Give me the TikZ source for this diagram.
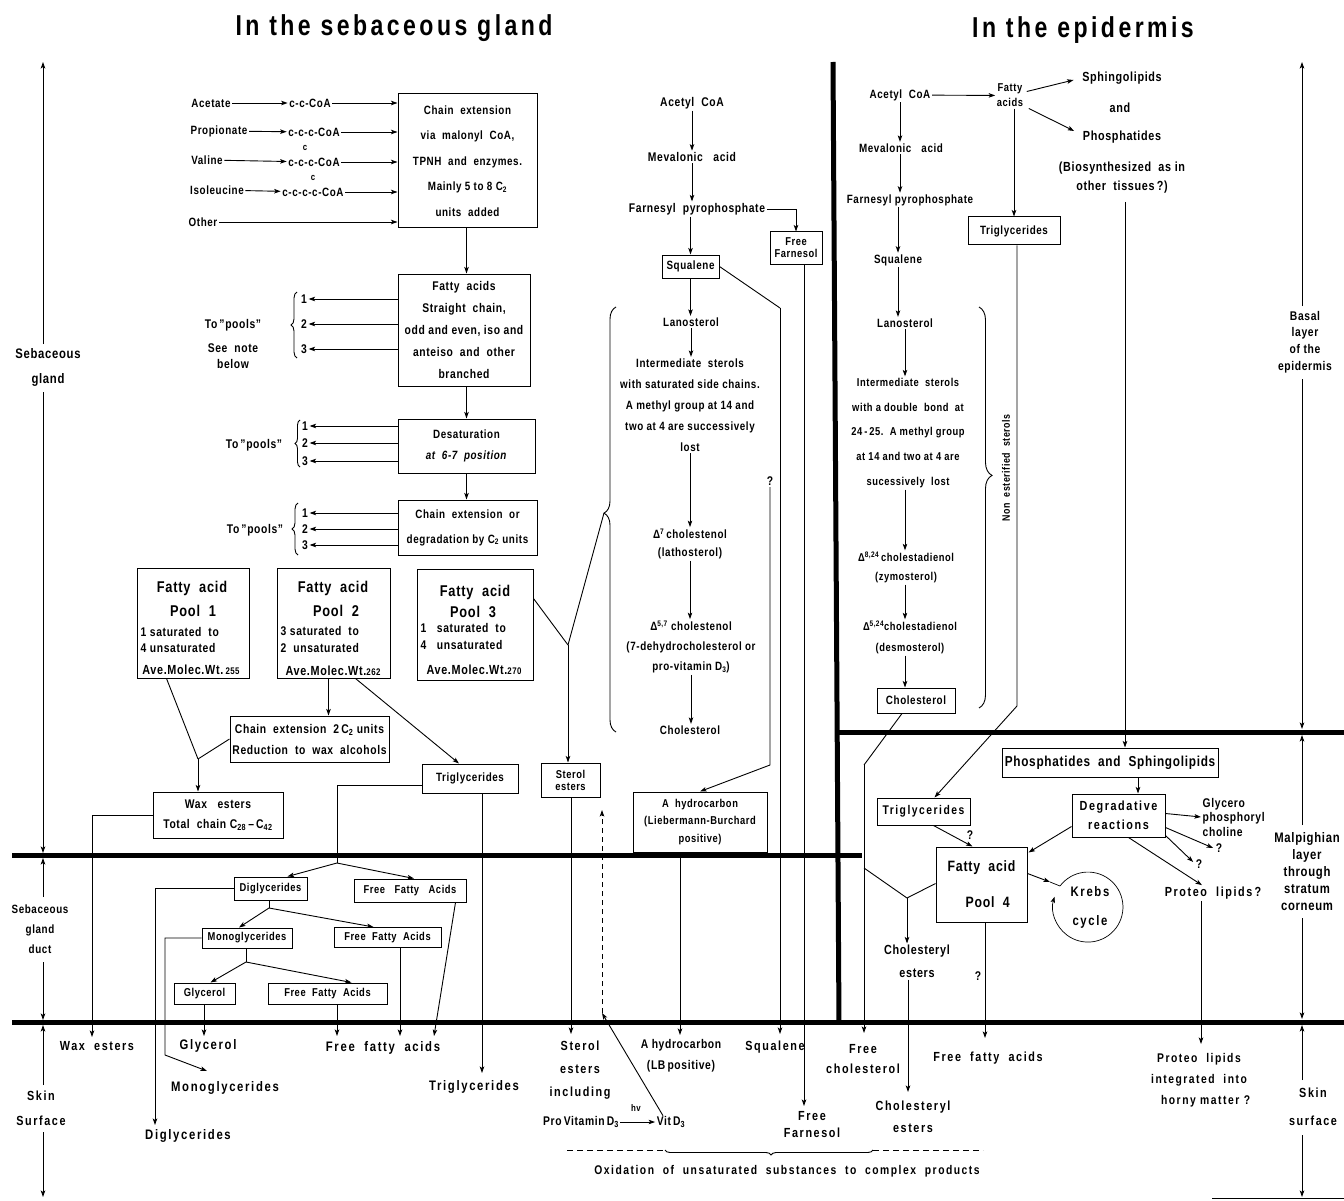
\documentclass[tikz,border=0pt]{standalone}
\usepackage{fontspec}
\setmainfont{Liberation Sans}[LetterSpace=5, FakeStretch=0.82]
\newfontfamily\titlefont{Liberation Sans}[LetterSpace=12, FakeStretch=0.8]
\usetikzlibrary{arrows.meta,decorations.pathreplacing,calc}
\newcommand\fz[2]{\fontsize{\fpeval{#1*1.2}}{#2}\selectfont}
\begin{document}
\begin{tikzpicture}[x=1pt,y=-1pt,
 every node/.style={font=\bfseries\fz{10.5}{13}, inner sep=1.5pt, align=center},
 fsz/.style 2 args={font=\bfseries\fz{#1}{#2}},
 bl/.style 2 args={font=\bfseries\fz{#1}{#2}\addfontfeature{LetterSpace=12}},
 box/.style={draw, line width=1pt, inner sep=0pt},
 ar/.style={line width=0.9pt, -{Stealth[length=6.5pt,width=4.5pt,inset=1.5pt]}},
 ln/.style={line width=0.9pt},
 bound/.style={line width=5pt},
 brc/.style={line width=0.9pt, decorate, decoration={brace, amplitude=#1}},
 ttl/.style={font=\titlefont\bfseries\fz{24}{28}}
]
\fill[white] (0,0) rectangle (1344,1201);
\useasboundingbox (0,0) rectangle (1344,1201);

% ---------- titles
\node[ttl] (t1) at (394,28) {In\ the\ sebaceous\ gland};
\node[ttl] (t2) at (1083,30) {In\ the\ epidermis};

% ---------- boundaries
\draw[bound] (12,855) -- (862,855);
\draw[bound] (12,1022) -- (1344,1022);
\draw[bound] (838,732) -- (1344,732);
\draw[bound] (833,62) -- (839,1024);

% ---------- region labels, left
\node[fsz={11.5}{25}] (sebg) at (48,367) {Sebaceous\\gland};
\coordinate (L1) at (43,62); \coordinate (L2) at (43,853);
\draw[ar] (43,344) -- (L1);
\draw[ar] (43,392) -- (L2);
\node[fsz={10}{20}] (duct) at (40,929) {Sebaceous\\gland\\duct};
\coordinate (L3) at (43,858); \coordinate (L4) at (43,1020);
\draw[ar] (43,897) -- (L3);
\draw[ar] (43,962) -- (L4);
\node[bl={11}{25}] (skinl) at (41,1108) {Skin\\Surface};
\coordinate (L5) at (43,1025); \coordinate (L6) at (43,1197);
\draw[ar] (43,1085) -- (L5);
\draw[ar] (43,1132) -- (L6);

% ---------- region labels, right
\node[fsz={10.5}{16.7}] (basal) at (1305,342) {Basal\\layer\\of the\\epidermis};
\coordinate (R1) at (1302,62); \coordinate (R2) at (1302,729);
\draw[ar] (1302,306) -- (R1);
\draw[ar] (1302,379) -- (R2);
\node[fsz={11.5}{17}] (malp) at (1307,872) {Malpighian\\layer\\through\\stratum\\corneum};
\coordinate (R3) at (1302,735); \coordinate (R4) at (1302,1019);
\draw[ar] (1302,825) -- (R3);
\draw[ar] (1302,918) -- (R4);
\node[bl={11}{28}] (skinr) at (1313,1107) {Skin\\surface};
\coordinate (R5) at (1302,1025); \coordinate (R6) at (1302,1197);
\draw[ar] (1302,1080) -- (R5);
\draw[ar] (1302,1135) -- (R6);
\draw[ln] (1212,1198) -- (1344,1198);

% ---------- precursors
\node[fsz={10}{12}] (acet) at (211,103) {Acetate};
\node[fsz={10}{12}] (c1) at (310,103) {c-c-CoA};
\node[fsz={10}{12}] (prop) at (219,131) {Propionate};
\node[fsz={10}{12}] (c2) at (314,132) {c-c-c-CoA};
\node[fsz={10}{12}] (val) at (207,160) {Valine};
\node[fsz={10}{12}] (c3) at (314,162) {c-c-c-CoA};
\node[fsz={8}{9}, inner sep=0pt] (c3b) at (305,148) {c};
\node[fsz={10}{12}] (iso) at (217,190) {Isoleucine};
\node[fsz={10}{12}] (c4) at (313,192) {c-c-c-c-CoA};
\node[fsz={8}{9}, inner sep=0pt] (c4b) at (313,178) {c};
\node[fsz={10}{12}] (oth) at (203,222) {Other};

\node[box, minimum width=139pt, minimum height=134pt, fsz={10}{25.5}] (chain) at (467.5,161)
 {Chain\ \ extension\\via\ \ malonyl\ \ CoA,\\TPNH\ \ and\ \ enzymes.\\Mainly 5 to 8 C\textsubscript{2}\\units\ \ added};

\draw[ar] (acet) -- (c1);
\draw[ar] (prop) -- (c2);
\draw[ar] (val) -- (c3);
\draw[ar] (iso) -- (c4);
\draw[ar] (c1) -- (c1 -| chain.west);
\draw[ar] (c2) -- (c2 -| chain.west);
\draw[ar] (c3) -- (c3 -| chain.west);
\draw[ar] (c4) -- (c4 -| chain.west);
\draw[ar] (oth) -- (oth -| chain.west);

% ---------- fatty acid processing
\node[box, minimum width=132pt, minimum height=112pt, fsz={10.5}{22.2}] (fa) at (464,330)
 {Fatty\ \ acids\\Straight\ \ chain,\\odd and even, iso and\\anteiso\ \ and\ \ other\\branched};
\node[box, minimum width=137pt, minimum height=54pt, fsz={10}{21}] (des) at (466.5,446)
 {Desaturation\\\textit{at\ \ 6-7\ \ position}};
\node[box, minimum width=139pt, minimum height=55pt, fsz={10}{25}] (cex) at (467.5,527.5)
 {Chain\ \ extension\ \ or\\degradation by C\textsubscript{2} units};
\draw[ar] (chain.south -| des) -- (des |- fa.north);
\draw[ar] (fa.south -| des) -- (des.north);
\draw[ar] (des.south) -- (des |- cex.north);

\node (f1) at (304,299) {1};
\node (f2) at (304,324) {2};
\node (f3) at (304,349) {3};
\draw[ar] (fa.west |- f1) -- (f1.east);
\draw[ar] (fa.west |- f2) -- (f2.east);
\draw[ar] (fa.west |- f3) -- (f3.east);
\draw[brc=6pt] (297,358) -- (297,292);
\node (tp1) at (233,325) {To\,''pools''};
\node (sn1) at (233,348) {See\ \ note};
\node (sn2) at (233,364) {below};

\node (d1) at (305,426) {1};
\node (d2) at (305,443) {2};
\node (d3) at (305,461) {3};
\draw[ar] (des.west |- d1) -- (d1.east);
\draw[ar] (des.west |- d2) -- (d2.east);
\draw[ar] (des.west |- d3) -- (d3.east);
\draw[brc=5pt] (300,467) -- (300,420);
\node (tp2) at (254,445) {To\,''pools''};

\node (e1) at (305,513) {1};
\node (e2) at (305,529) {2};
\node (e3) at (305,545) {3};
\draw[ar] (cex.west |- e1) -- (e1.east);
\draw[ar] (cex.west |- e2) -- (e2.east);
\draw[ar] (cex.west |- e3) -- (e3.east);
\draw[brc=6pt] (298,555) -- (298,503);
\node (tp3) at (255,530) {To\,''pools''};

% ---------- pools
\node[box, minimum width=112pt, minimum height=110pt] (p1) at (193,623) {};
\node[fsz={13}{15}] (p1a) at (192,588) {Fatty\ \ acid};
\node[fsz={13}{15}] (p1b) at (193,611) {Pool\ \ 1};
\node[fsz={10.5}{12}, anchor=west] (p1c) at (139,632) {1 saturated\ \ to};
\node[fsz={10.5}{12}, anchor=west] (p1d) at (139,648) {4 unsaturated};
\node[fsz={11}{13}] (p1e) at (191,670) {Ave.Molec.Wt.\,{\fz{8}{9}255}};

\node[box, minimum width=113pt, minimum height=110pt] (p2) at (333.5,623) {};
\node[fsz={13}{15}] (p2a) at (333,588) {Fatty\ \ acid};
\node[fsz={13}{15}] (p2b) at (336,611) {Pool\ \ 2};
\node[fsz={10.5}{12}, anchor=west] (p2c) at (279,631) {3 saturated\ \ to};
\node[fsz={10.5}{12}, anchor=west] (p2d) at (279,648) {2\ \ unsaturated};
\node[fsz={11}{13}] (p2e) at (333,671) {Ave.Molec.Wt.{\fz{8}{9}262}};

\node[box, minimum width=116pt, minimum height=111pt] (p3) at (475,624.5) {};
\node[fsz={13}{15}] (p3a) at (475,592) {Fatty\ \ acid};
\node[fsz={13}{15}] (p3b) at (473,612) {Pool\ \ 3};
\node[fsz={10.5}{12}, anchor=west] (p3c) at (419,628) {1\ \ \ saturated\ \ to};
\node[fsz={10.5}{12}, anchor=west] (p3d) at (419,645) {4\ \ \ unsaturated};
\node[fsz={11}{13}] (p3e) at (474,670) {Ave.Molec.Wt.{\fz{8}{9}270}};

\node[box, minimum width=159pt, minimum height=46pt, fsz={10.5}{21}] (cex2) at (309.5,739)
 {Chain\ \ extension\ \ 2\,C\textsubscript{2}\ units\\Reduction\ \ to\ \ wax\ \ alcohols};
\node[box, minimum width=130pt, minimum height=46pt, fsz={10.5}{20}] (wax) at (218,815)
 {Wax\ \ \ esters\\Total\ \ chain\ C\textsubscript{28}\,--\,C\textsubscript{42}};
\node[box, minimum width=96pt, minimum height=29pt, fsz={10}{12}] (trig) at (470,778.5) {Triglycerides};
\node[box, minimum width=59pt, minimum height=34pt, fsz={9.5}{12}] (ster) at (570.5,780) {Sterol\\esters};

\coordinate (j1) at (198,759);
\draw[ln] ($(p1.south west)+(30,0)$) -- (j1);
\draw[ln] (cex2.west) -- (j1);
\draw[ar] (j1) -- (j1 |- wax.north);
\coordinate (p2s) at ($(p2.south)+(-5,0)$);
\draw[ar] (p2s) -- (p2s |- cex2.north);
\draw[ar] ($(p2.south east)+(-35,0)$) -- ($(trig.north)+(-11,0)$);

\coordinate (j2) at (568,645);
\coordinate (btip) at (604,513);
\draw[ln] ($(p3.east)+(0,-26)$) -- (j2);
\draw[ln] (btip) -- (j2);
\draw[ar] (j2) -- (j2 |- ster.north);

% ---------- sterol pathway (gland)
\node (macoa) at (692,103) {Acetyl\ \ CoA};
\node (mmev) at (692,157) {Mevalonic\ \ \ acid};
\node (mfar) at (697,209) {Farnesyl\ \ pyrophosphate};
\node[box, minimum width=57pt, minimum height=23pt, fsz={10}{12}] (msq) at (690.5,266.5) {Squalene};
\node[box, minimum width=52pt, minimum height=32pt, fsz={9.5}{12}] (ffar) at (796,248) {Free\\Farnesol};
\node[fsz={10}{12}] (mlan) at (691,322) {Lanosterol};
\node[fsz={10}{21}] (minter) at (690,405)
 {Intermediate\ \ sterols\\with saturated side chains.\\A methyl group at 14 and\\two at 4 are successively\\lost};
\node[fsz={10}{18}] (md7) at (690,544) {Δ\textsuperscript{7}\,cholestenol\\(lathosterol)};
\node[fsz={10}{20}] (md57) at (691,647) {Δ\textsuperscript{5,7} cholestenol\\(7-dehydrocholesterol or\\pro-vitamin D\textsubscript{3})};
\node[fsz={10}{12}] (mchol) at (690,730) {Cholesterol};

\draw[ar] (macoa) -- (macoa |- mmev.north);
\draw[ar] (mmev) -- (mmev |- mfar.north);
\draw[ar] (mfar.south -| msq) -- (msq.north);
\draw[ar] (mfar.east) -| (ffar.north);
\draw[ar] (msq) -- (msq |- mlan.north);
\draw[ar] (mlan) -- (mlan |- minter.north);
\draw[ar] (minter.south) -- (minter.south |- md7.north);
\draw[ar] (md7.south) -- (md7.south |- md57.north);
\draw[ar] (md57.south) -- (md57.south |- mchol.north);

\draw[line width=0.9pt, decorate, decoration={brace, amplitude=12pt, aspect=0.515}] (616,732) -- (616,307);

\coordinate (sqb) at (780,308); \coordinate (sqend) at (780,1034);
\draw[ln] (msq.east) -- (sqb);
\draw[ar] (sqb) -- (sqend);
\coordinate (ffs) at (804,264); \coordinate (ffend) at (804,1106);
\draw[ar] (ffs) -- (ffend);

\node (q1) at (770,481) {?};
\node[box, minimum width=134pt, minimum height=60pt, fsz={9.5}{17.5}] (hc) at (700,822)
 {A\ \ hydrocarbon\\(Liebermann-Burchard\\positive)};
\coordinate (hq) at (770,765);
\draw[ar] (q1.south) -- (hq) -- (hc.north);
\coordinate (hcend) at (680,1035);
\draw[ar] (hc.south -| hcend) -- (hcend);

\coordinate (sterend) at (571,1034);
\draw[ar] (ster.south -| sterend) -- (sterend);
\coordinate (vtop) at (602,810); \coordinate (vbot) at (602,1013);
\draw[ln, dash pattern=on 5pt off 4pt, -{Stealth[length=6.5pt,width=4.5pt,inset=1.5pt]}] (vbot) -- (vtop);

% ---------- duct
\node[box, minimum width=73pt, minimum height=23pt, fsz={9.5}{11}] (dig) at (270.5,888.5) {Diglycerides};
\node[box, minimum width=112pt, minimum height=23pt, fsz={9.5}{11}] (ffa1) at (410,890.5) {Free\ \ \ Fatty\ \ \ Acids};
\node[box, minimum width=90pt, minimum height=20pt, fsz={9.5}{11}] (mono) at (247,938) {Monoglycerides};
\node[box, minimum width=107pt, minimum height=20pt, fsz={9.5}{11}] (ffa2) at (387.5,937.5) {Free\ \ Fatty\ \ Acids};
\node[box, minimum width=61pt, minimum height=21pt, fsz={9.5}{11}] (glyb) at (204.5,993.5) {Glycerol};
\node[box, minimum width=119pt, minimum height=21pt, fsz={9.5}{11}] (ffa3) at (327.5,993.5) {Free\ \ Fatty\ \ Acids};

\coordinate (tj) at (337,863);
\draw[ln] ($(trig.west)+(0,7)$) -| (tj);
\draw[ar] (tj) -- ($(dig.north)+(17,0)$);
\draw[ar] (tj) -- ($(ffa1.north)+(4,0)$);
\coordinate (dj) at (269,908);
\draw[ln] (dig.south -| dj) -- (dj);
\draw[ar] (dj) -- ($(mono.north)+(-8,0)$);
\draw[ar] (dj) -- ($(ffa2.north)+(-14,0)$);
\coordinate (mj) at (246,962);
\draw[ln] (mono.south -| mj) -- (mj);
\draw[ar] (mj) -- ($(glyb.north)+(6,0)$);
\draw[ar] (mj) -- ($(ffa3.north)+(24,0)$);

% ---------- skin surface labels (gland side)
\node[bl={11}{13}] (waxL) at (97,1046) {Wax\ \ esters};
\node[bl={11.5}{13}] (glyL) at (208,1046) {Glycerol};
\node[bl={11.5}{13}] (ffaL) at (383,1048) {Free\ \ fatty\ \ acids};
\node[bl={11.5}{13}] (monoL) at (225,1088) {Monoglycerides};
\node[bl={11.5}{13}] (trigL) at (474,1087) {Triglycerides};
\node[bl={11.5}{13}] (digL) at (188,1136) {Diglycerides};
\node[bl={11}{23}] (sterL) at (580,1070) {Sterol\\esters\\including};
\node[fsz={10.5}{12}] (prov) at (581,1122) {Pro\,Vitamin\,D\textsubscript{3}};
\node[fsz={8}{9}] (hv) at (636,1108) {hv};
\node[fsz={10.5}{12}] (vitd) at (671,1122) {Vit\,D\textsubscript{3}};
\draw[ar] (prov.east) -- (vitd.west);
\draw[ln, -{Stealth[length=6.5pt,width=4.5pt,inset=1.5pt]}] ($(vitd.north)+(-8,1)$) -- (vbot);
\node[fsz={10.5}{21}] (hcL) at (681,1056) {A\ hydrocarbon\\(LB\,positive)};
\node[bl={11}{13}] (sqL) at (775,1047) {Squalene};
\node[bl={11}{17}] (ffarL) at (812,1124.5) {Free\\Farnesol};
\node[bl={11}{20}] (fcholL) at (863,1059.5) {Free\\cholesterol};
\node[bl={11}{22}] (cestL) at (913,1117) {Cholesteryl\\esters};
\node[bl={11}{13}] (ffa2L) at (988,1058) {Free\ \ fatty\ \ acids};
\node[bl={10.5}{21}] (protL) at (1199,1080) {Proteo\ \ lipids\\integrated\ \ into\\\ \ \ horny\ matter\ ?};

\coordinate (waxend) at (92,1037);
\draw[ar] (wax.west) -| (waxend);
\coordinate (digend) at (155,1125);
\draw[ar] (dig.west) -| (digend);
\coordinate (monob) at (165,1055); \coordinate (monoend) at (207,1071);
\draw[ar] (mono.west) -| (monob) -- (monoend);
\coordinate (glyend) at (204,1036);
\draw[ar] (glyb.south -| glyend) -- (glyend);
\coordinate (ffa3end) at (337,1036);
\draw[ar] (ffa3.south -| ffa3end) -- (ffa3end);
\coordinate (ffa2end) at (400,1036);
\draw[ar] (ffa2.south -| ffa2end) -- (ffa2end);
\coordinate (ffa1end) at (434,1036);
\draw[ar] ($(ffa1.south east)+(-11,0)$) -- (ffa1end);
\coordinate (trigend) at (482,1073);
\draw[ar] (trig.south -| trigend) -- (trigend);

% ---------- oxidation
\draw[ln, dash pattern=on 6pt off 4pt] (567,1150) -- (665,1150);
\draw[line width=0.9pt, decorate, decoration={brace, mirror, amplitude=5pt, aspect=0.51}] (665,1150) -- (873,1150);
\draw[ln, dash pattern=on 6pt off 4pt] (873,1150) -- (983,1150);
\node[bl={10.5}{12}] (oxid) at (787,1171) {Oxidation\ \ of\ \ unsaturated\ \ substances\ \ to\ \ complex\ \ products};

% ---------- epidermis
\node[fsz={10}{12}] (eacoa) at (900,95) {Acetyl\ \ CoA};
\node[fsz={9.5}{15}] (efa) at (1010,95.5) {Fatty\\acids};
\draw[ar] (eacoa) -- (efa);
\node[fsz={11}{13}] (sph) at (1122,78) {Sphingolipids};
\node[fsz={11}{13}] (andw) at (1120,108) {and};
\node[fsz={11}{13}] (phos) at (1122,137) {Phosphatides};
\node[fsz={11}{19}] (bios) at (1122,177.5) {(Biosynthesized\ \ as\ in\\other\ \ tissues\,?)};
\draw[ar] ($(efa.east)+(2,-4)$) -- ($(sph.west)+(-7,2)$);
\draw[ar] ($(efa.east)+(4,13)$) -- ($(phos.west)+(-7,-6)$);
\node[box, minimum width=92pt, minimum height=28pt, fsz={10}{12}] (etrig) at (1014,231) {Triglycerides};
\draw[ar] (efa.south -| etrig) -- (etrig.north);

\node[fsz={10}{12}] (emev) at (901,148) {Mevalonic\ \ \ acid};
\node[fsz={10}{12}] (efar) at (910,200) {Farnesyl pyrophosphate};
\node[fsz={10}{12}] (esq) at (898,260) {Squalene};
\node[fsz={10}{12}] (elan) at (905,323) {Lanosterol};
\node[fsz={9.5}{24.8}] (einter) at (908,433)
 {Intermediate\ \ sterols\\with a double\ \ bond\ \ at\\24\,-\,25.\ \ A\ methyl group\\at 14 and two at 4 are\\sucessively\ \ lost};
\node[fsz={9.5}{19}] (ed824) at (906,567.5) {Δ\textsuperscript{8,24}\,cholestadienol\\(zymosterol)};
\node[fsz={9.5}{21}] (ed524) at (910,637.5) {Δ\textsuperscript{5,24}cholestadienol\\(desmosterol)};
\node[box, minimum width=78pt, minimum height=25pt, fsz={10}{12}] (echol) at (916,700.5) {Cholesterol};

\draw[ar] (eacoa) -- (eacoa |- emev.north);
\draw[ar] (emev.south -| eacoa) -- (eacoa |- efar.north);
\draw[ar] (efar.south -| esq) -- (esq.north);
\draw[ar] (esq) -- (esq |- elan.north);
\draw[ar] (elan) -- (elan |- einter.north);
\draw[ar] (einter.south -| elan) -- (elan |- ed824.north);
\draw[ar] (ed824.south -| elan) -- (elan |- ed524.north);
\draw[ar] (ed524.south -| elan) -- (elan |- echol.north);

\draw[line width=0.9pt, decorate, decoration={brace, amplitude=13pt, aspect=0.42}] (979,307) -- (979,708);
\node[rotate=90, fsz={9}{10}] (nes) at (1006,468) {Non\ \ esterified\ \ sterols};

\coordinate (etb) at (1017,706);
\node[box, minimum width=93pt, minimum height=27pt, bl={10.5}{12}] (etrig2) at (923.5,811.5) {Triglycerides};
\draw[ar] (etrig.south -| etb) -- (etb) -- ($(etrig2.north)+(11,0)$);

\coordinate (fcb) at (864,765); \coordinate (fcend) at (864,1033); \coordinate (fcj) at (864,868);
\draw[ln] ($(echol.south)+(-14,0)$) -- (fcb);
\draw[ar] (fcb) -- (fcend);

\coordinate (pstart) at (1125,202);
\node[box, minimum width=216pt, minimum height=29pt, fsz={12}{14}] (psph) at (1110,762.5) {Phosphatides\ \ and\ \ Sphingolipids};
\draw[ar] (pstart) -- (pstart |- psph.north);
\node[box, minimum width=93pt, minimum height=43pt, bl={11}{19}] (degr) at (1118.5,815.5) {Degradative\\reactions};
\draw[ar] ($(psph.south)+(28,0)$) -- ($(degr.north)+(19.5,0)$);

\node[fsz={10.5}{14.5}, align=left, anchor=west] (gpc) at (1201,817) {Glycero\\phosphoryl\\choline};
\draw[ar] ($(degr.east)+(0,-2)$) -- (gpc.west);
\node (qa) at (1219,848) {?};
\draw[ar] ($(degr.east)+(0,12)$) -- ($(qa.west)+(-1,0)$);
\node (qb) at (1199,864) {?};
\draw[ar] ($(degr.south east)+(0,-2)$) -- ($(qb.west)+(-1,-2)$);
\node[bl={11}{13}] (prot) at (1213,893) {Proteo\ \ lipids\,?};
\draw[ar] ($(degr.south)+(10,0)$) -- ($(prot.north)+(-11,0)$);
\coordinate (protend) at (1201,1044);
\draw[ar] (prot.south -| protend) -- (protend);

\node[box, minimum width=91pt, minimum height=75pt, fsz={12.5}{36}] (pool4) at (981.5,884.5) {Fatty\ \ acid\\\ \ \ Pool\ \ 4};
\draw[ar] ($(degr.west)+(0,11)$) -- ($(pool4.north east)+(1,6)$);
\node (qc) at (970,835) {?};
\draw[ar] ($(etrig2.south)+(10,0)$) -- ($(pool4.north)+(-9,0)$);

\node[bl={11.5}{29}] (krebs) at (1090,907.5) {Krebs\\cycle};
\coordinate (kr1) at (1050,882); \coordinate (kr2) at (1060,886);
\draw[ar] ($(pool4.east)+(0,-11)$) -- (kr1);
\draw[line width=0.7pt] (kr1) -- (kr2);
\draw[line width=0.7pt, -{Stealth[length=6pt,width=4.5pt,inset=1.5pt]}] (kr2) arc[start angle=143, end angle=-197, radius=35pt];

\coordinate (pj) at (907,898);
\draw[ln] ($(pool4.west)+(0,-1)$) -- (pj);
\draw[ln] (fcj) -- (pj);
\node[fsz={11}{23}] (cest) at (917,961.5) {Cholesteryl\\esters};
\draw[ar] (pj) -- (pj |- cest.north);
\coordinate (cestend) at (908,1092);
\draw[ar] (cest.south -| cestend) -- (cestend);
\node (qd) at (978,976) {?};
\coordinate (p4end) at (985,1038);
\draw[ar] (pool4.south -| p4end) -- (p4end);
\end{tikzpicture}
\end{document}
